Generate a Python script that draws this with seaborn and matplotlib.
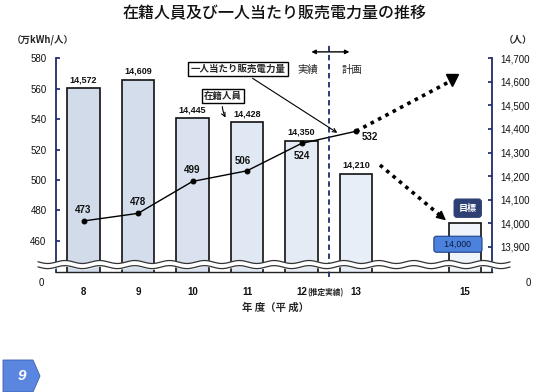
import numpy as np
import matplotlib
matplotlib.use('Agg')
import matplotlib.pyplot as plt
import seaborn as sns
from matplotlib.patches import Polygon

# --- data ---
years = [8, 9, 10, 11, 12, 13, 15]
year_labels = ['8', '9', '10', '11', '12', '13', '15']
staff = [14572, 14609, 14445, 14428, 14350, 14210, 14000]
bar_colors = ['#cddaee', '#cfdcef', '#d5e1f2', '#dce7f6', '#e1eaf7', '#e5edf9', '#edf3fc']
sales_years = [8, 9, 10, 11, 12, 13]
sales_per_person = [473, 478, 499, 506, 524, 532]
left_ticks = [460, 480, 500, 520, 540, 560, 580]
right_ticks = [13900, 14000, 14100, 14200, 14300, 14400, 14500, 14600, 14700]

NAVY = '#1f2d6b'

sns.set_theme(style='white')
plt.rcParams['font.family'] = ['Liberation Sans', 'Noto Sans CJK JP']
JP = ['Noto Sans CJK JP', 'DejaVu Sans']

fig = plt.figure(figsize=(5.5, 3.92), dpi=100)
ax = fig.add_axes([0.1023, 0.306, 0.7927, 0.5453])
ax2 = ax.twinx()

# --- bars: staff (right scale) ---
sns.barplot(x=years, y=staff, hue=year_labels, palette=dict(zip(year_labels, bar_colors)),
            native_scale=True, width=0.6, dodge=False, legend=False,
            edgecolor='#111111', linewidth=1.2, ax=ax)
for x, v in zip(years[:-1], staff[:-1]):
    ax.annotate(f'{v:,}', xy=(x, v), xytext=(0, 3), textcoords='offset points',
                ha='center', va='bottom', fontsize=6.5, weight='bold', color='#111111')

# --- line: sales per person (left scale) ---
sns.lineplot(x=sales_years, y=sales_per_person, ax=ax2, color='black', lw=1,
             marker='o', markersize=3.5, markeredgecolor='black')
label_offsets = [(0, 8), (0, 8), (0, 8), (-3, 7), (0, -9), (10, -4)]
for x, v, off in zip(sales_years, sales_per_person, label_offsets):
    ax2.annotate(str(v), xy=(x, v), xytext=off, textcoords='offset points',
                 ha='center', va='center', fontsize=7, weight='bold', color='#111111')

# --- scales ---
ax.set_xlim(7.5, 15.5)
ax.set_ylim(13793, 14700)
ax2.set_ylim(439.4, 580)

ax.yaxis.tick_right()
ax2.yaxis.tick_left()
ax.set_yticks(right_ticks)
ax.set_yticklabels([f'{t:,}' for t in right_ticks])
ax2.set_yticks(left_ticks)
ax2.set_yticklabels([str(t) for t in left_ticks])
ax.set_xticks(years)
ax.set_xticklabels(year_labels)
ax.set_xlabel('')
ax2.set_xlabel('')
ax.set_ylabel('')
ax2.set_ylabel('')
ax.tick_params(axis='y', direction='in', length=3, color=NAVY, pad=6, labelsize=7, labelcolor='#111111')
ax2.tick_params(axis='y', direction='in', length=3, color=NAVY, pad=7, labelsize=7, labelcolor='#111111')
ax.tick_params(axis='x', length=0, pad=11, labelsize=7, labelcolor='#111111')
ax2.tick_params(axis='x', length=0, pad=11, labelsize=7, labelcolor='#111111')
for lab in ax.get_xticklabels():
    lab.set_fontweight('bold')
ax.grid(False)
ax2.grid(False)

for s in ax2.spines.values():
    s.set_visible(False)
ax.spines['top'].set_visible(False)
for side in ['left', 'right']:
    ax.spines[side].set_color(NAVY)
    ax.spines[side].set_linewidth(1.3)
ax.spines['bottom'].set_color('#222222')
ax.spines['bottom'].set_linewidth(1.0)

# "0" at the bottom of both broken axes
ax.text(-0.034, -0.051, '0', transform=ax.transAxes, ha='center', va='center', fontsize=7, color='#111111')
ax.text(1.082, -0.051, '0', transform=ax.transAxes, ha='center', va='center', fontsize=7, color='#111111')
ax.annotate('(推定実績)', xy=(12, 0), xycoords=ax.get_xaxis_transform(), xytext=(4, -15),
            textcoords='offset points', ha='left', va='center', fontsize=5.5, family=JP, weight='bold')

# --- axis break (wavy band) ---
wx = np.linspace(-0.042, 1.041, 400)
wave = 0.007 * np.sin(2 * np.pi * wx / 0.08)
ax2.fill_between(wx, 0.023 + wave, 0.047 + wave, color='white', transform=ax2.transAxes,
                 clip_on=False, zorder=5)
ax2.plot(wx, 0.047 + wave, color='#333333', lw=0.9, transform=ax2.transAxes, clip_on=False, zorder=6)
ax2.plot(wx, 0.023 + wave, color='#333333', lw=0.9, transform=ax2.transAxes, clip_on=False, zorder=6)

# --- actual / plan divider ---
ax2.axvline(12.5, ymin=-0.023, ymax=1.062, color=NAVY, ls=(0, (3, 2)), lw=1.3, clip_on=False)
xt = ax2.get_xaxis_transform()
ax2.annotate('', xy=(12.93, 1.03), xytext=(12.13, 1.03), xycoords=xt, textcoords=xt,
             arrowprops=dict(arrowstyle='<|-|>', color='black', lw=1, mutation_scale=6))
ax2.text(12.11, 0.945, '実績', transform=xt, ha='center', va='center', fontsize=7.5, family=JP)
ax2.text(12.92, 0.945, '計画', transform=xt, ha='center', va='center', fontsize=7.5, family=JP)

# --- callouts ---
ax2.annotate('一人当たり販売電力量', xy=(12.70, 530), xytext=(10.835, 573),
             ha='center', va='center', fontsize=6.8, weight='bold', family=JP,
             bbox=dict(boxstyle='square,pad=0.25', fc='white', ec='black', lw=1),
             arrowprops=dict(arrowstyle='->', color='black', lw=0.8))
ax2.annotate('在籍人員', xy=(10.63, 539.4), xytext=(10.56, 555.2),
             ha='center', va='center', fontsize=6.8, weight='bold', family=JP,
             bbox=dict(boxstyle='square,pad=0.25', fc='white', ec='black', lw=1),
             arrowprops=dict(arrowstyle='->', color='black', lw=0.8,
                             connectionstyle='arc3,rad=0.2'))

# --- projection arrows (dotted) ---
tip1 = (14.76, 565.5)
ax2.plot([sales_years[-1], tip1[0]], [sales_per_person[-1], tip1[1]], color='black',
         lw=2.6, ls=(0, (1, 1.3)))
ax2.plot([tip1[0]], [tip1[1]], marker='v', ms=9, color='black')

start2 = (13.44, 14247)
tip2 = (14.69, 14005)
ax.plot([start2[0], tip2[0] - 0.12], [start2[1], tip2[1] + 23], color='black', lw=2.6, ls=(0, (1, 1.3)))
ax.annotate('', xy=tip2, xytext=(tip2[0] - 0.15, tip2[1] + 29),
            arrowprops=dict(arrowstyle='-|>', color='black', lw=1, mutation_scale=14))

# --- target box for year 15 ---
ax.text(years[-1] - 0.13, staff[-1] - 89, f'   {staff[-1]:,}   ', ha='center', va='center',
        fontsize=6.3, color='#0b1a40', zorder=8,
        bbox=dict(boxstyle='round,pad=0.4,rounding_size=0.3', fc='#4d82dc', ec='#1d3f8a', lw=0.8))
ax.text(years[-1] + 0.05, staff[-1] + 64, '目標', ha='center', va='center', fontsize=6.5,
        color='white', weight='bold', family=JP, zorder=8,
        bbox=dict(boxstyle='round,pad=0.5,rounding_size=0.3', fc='#2e3f73', ec='#2e3f73'))

# --- headings ---
fig.text(0.5, 1 - 14 / 392, '在籍人員及び一人当たり販売電力量の推移', ha='center', va='center',
         fontsize=11.5, weight='medium', family=JP, color='#111111')
fig.text(43 / 550, 1 - 40 / 392, '（万kWh/人）', ha='center', va='center', fontsize=6.8,
         weight='bold', family=JP)
fig.text(518 / 550, 1 - 40 / 392, '（人）', ha='center', va='center', fontsize=6.8,
         weight='bold', family=JP)
fig.text(275 / 550, 1 - 308 / 392, '年 度（平 成）', ha='center', va='center', fontsize=7.5,
         weight='bold', family=JP)

# --- page badge ---
badge = Polygon([(3 / 550, 1 - 360 / 392), (33 / 550, 1 - 360 / 392), (40 / 550, 1 - 376 / 392),
                 (33 / 550, 1 - 392 / 392), (3 / 550, 1 - 392 / 392)], closed=True,
                transform=fig.transFigure, fc='#5b86e0', ec='#3a5fb0', lw=0.6)
fig.patches.append(badge)
fig.text(22 / 550, 1 - 376 / 392, '9', ha='center', va='center', fontsize=11, color='white',
         style='italic', weight='bold')

fig.savefig('out.png', dpi=100)
